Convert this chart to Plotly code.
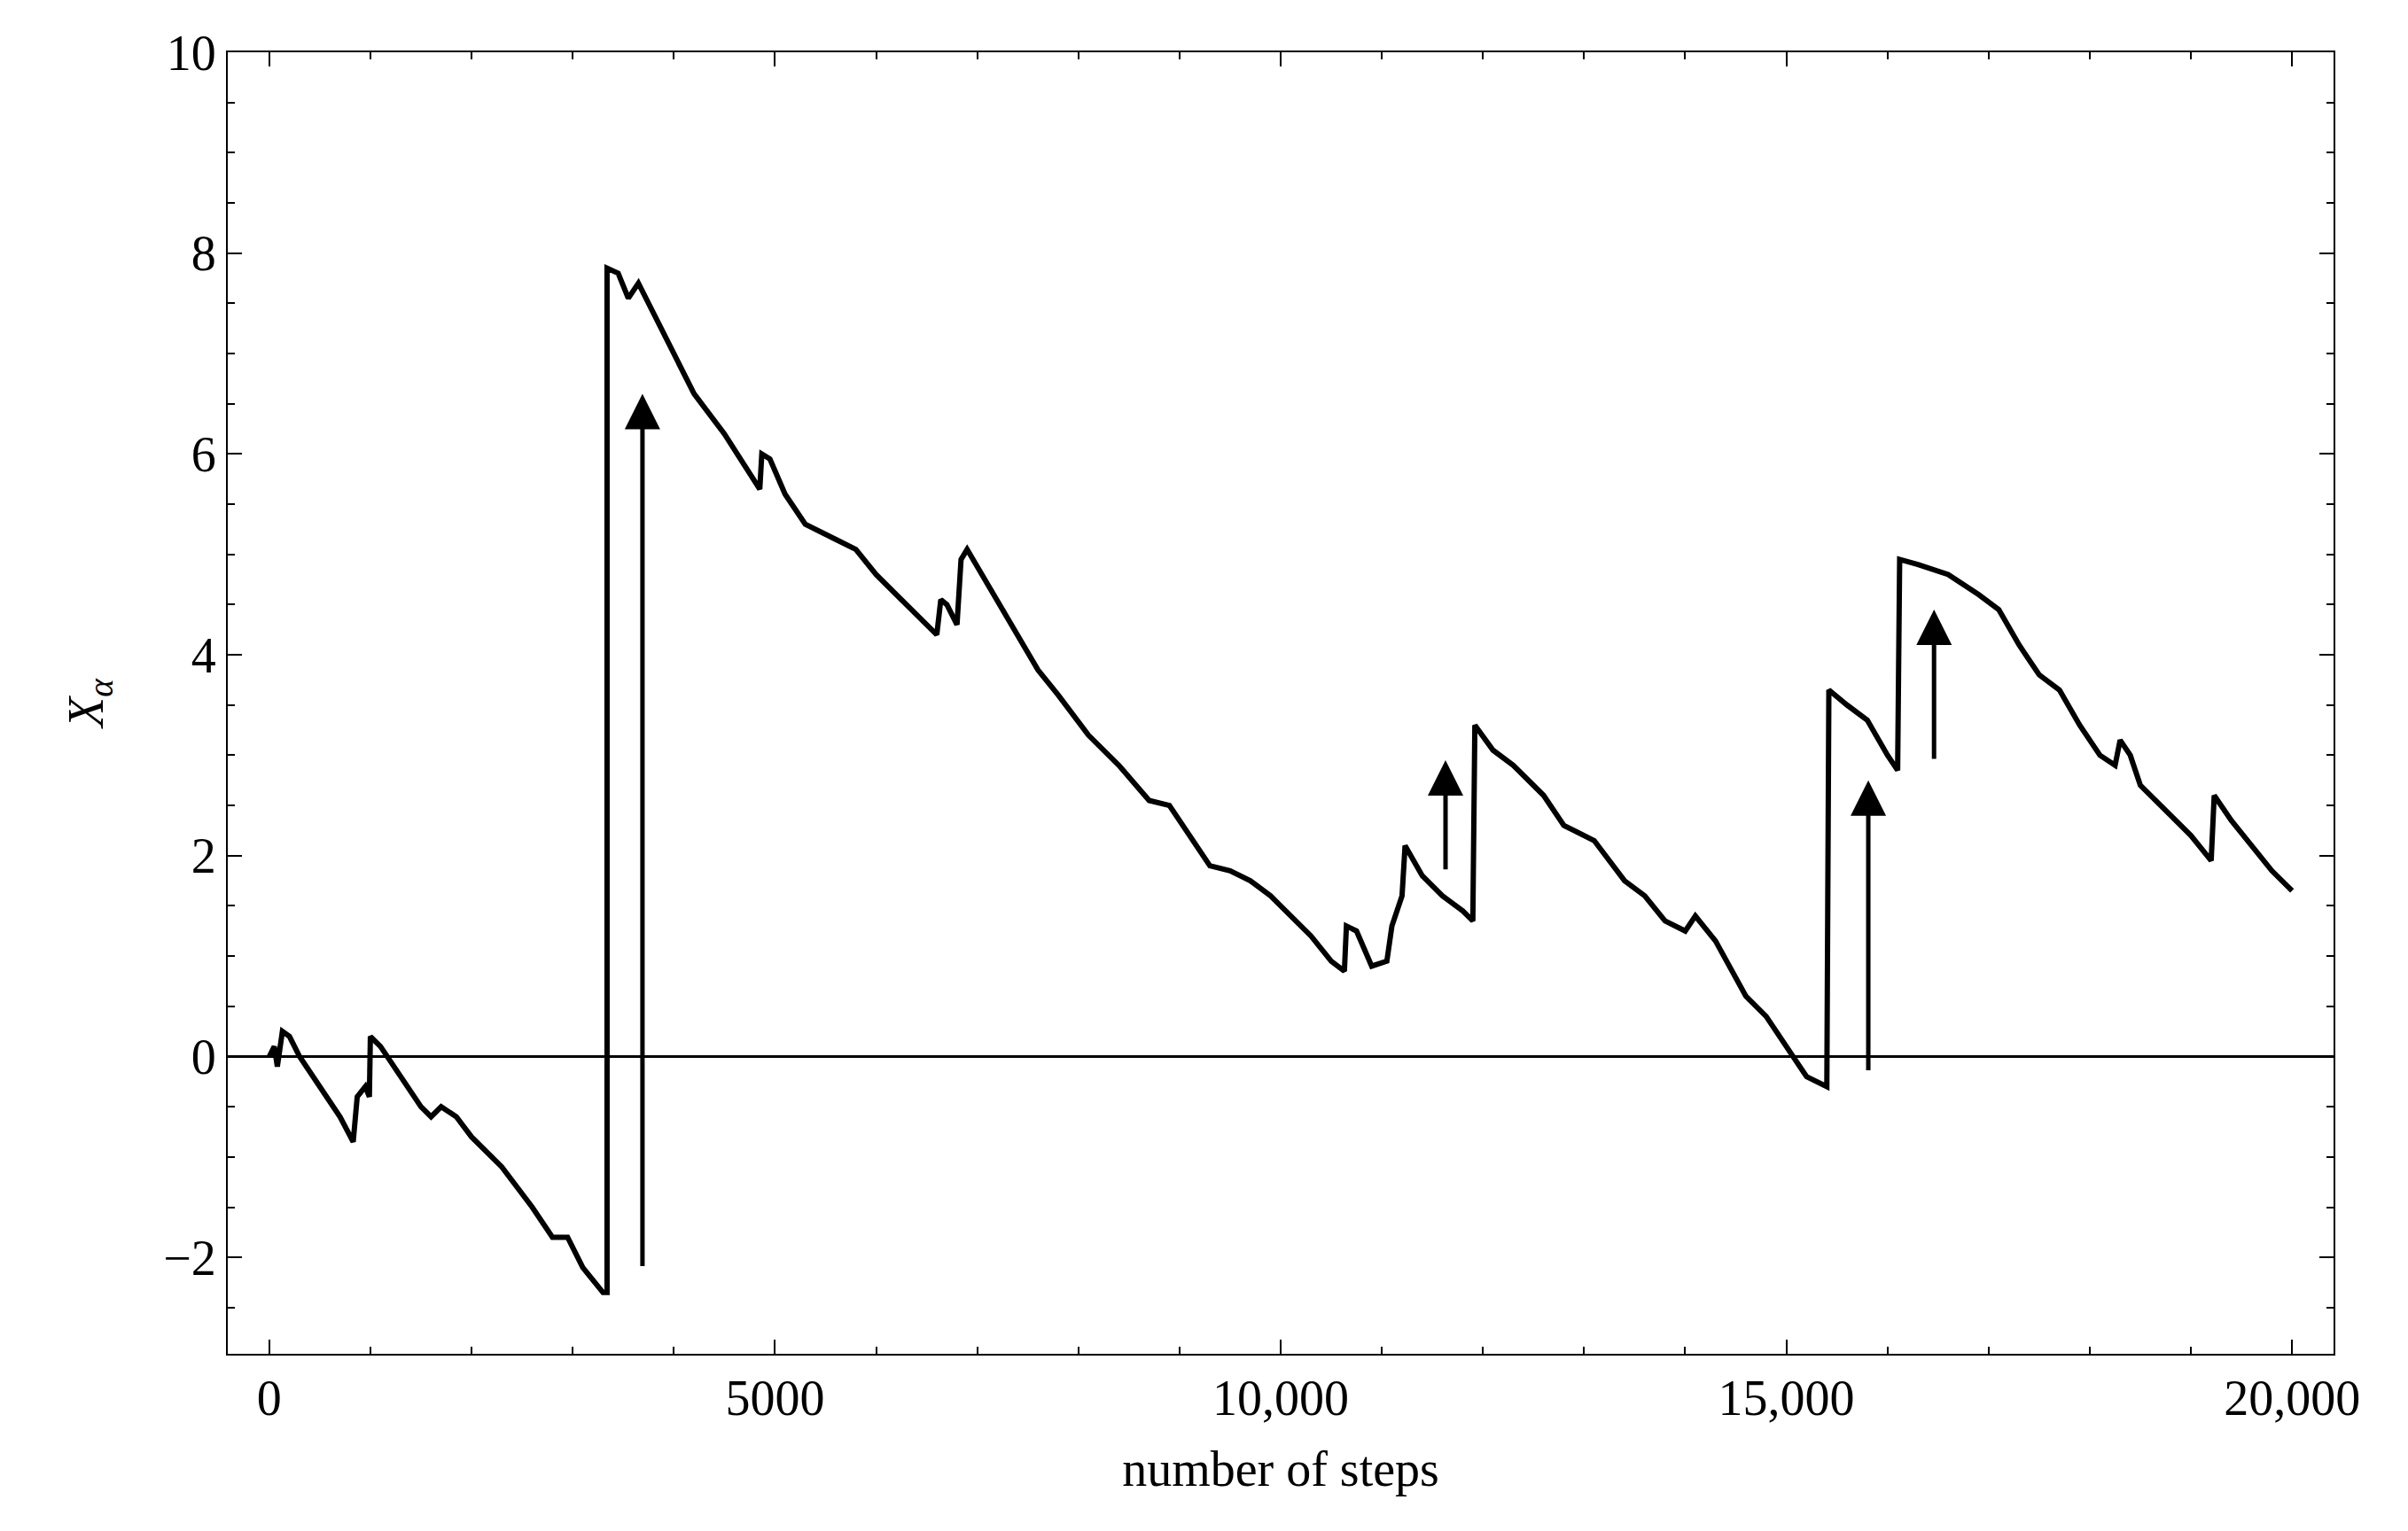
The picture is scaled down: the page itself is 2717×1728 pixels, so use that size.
import plotly.graph_objects as go

# path of X_alpha (step, value)
steps = [0, 50, 80, 130, 200, 300, 500, 700, 830, 870, 950, 990, 1000, 1100, 1300, 1500, 1600, 1700,
         1850, 2000, 2300, 2600, 2800, 2950, 3100, 3300, 3340, 3340, 3450, 3550, 3650, 3800, 4000,
         4200, 4500, 4750, 4850, 4870, 4950, 5100, 5300, 5600, 5800, 6000, 6200, 6400, 6500, 6600,
         6640, 6700, 6800, 6840, 6900, 7100, 7400, 7600, 7800, 8100, 8400, 8700, 8900, 9100, 9300,
         9500, 9700, 9900, 10100, 10300, 10500, 10630, 10650, 10750, 10900, 11050, 11100, 11200,
         11230, 11400, 11600, 11800, 11900, 11920, 12100, 12300, 12600, 12800, 13100, 13400, 13600,
         13800, 14000, 14100, 14300, 14600, 14800, 15000, 15200, 15400, 15420, 15600, 15800, 16000,
         16100, 16120, 16300, 16600, 16900, 17100, 17300, 17500, 17700, 17900, 18100, 18250, 18300,
         18400, 18500, 18800, 19000, 19200, 19230, 19400, 19600, 19800, 20000]
x_alpha = [0.0, 0.1, -0.1, 0.25, 0.2, 0.0, -0.3, -0.6, -0.85, -0.4, -0.3, -0.4, 0.2, 0.1, -0.2, -0.5,
           -0.6, -0.5, -0.6, -0.8, -1.1, -1.5, -1.8, -1.8, -2.1, -2.35, -2.35, 7.85, 7.8, 7.55, 7.7,
           7.4, 7.0, 6.6, 6.2, 5.8, 5.65, 6.0, 5.95, 5.6, 5.3, 5.15, 5.05, 4.8, 4.6, 4.4, 4.3, 4.2,
           4.55, 4.5, 4.3, 4.95, 5.05, 4.7, 4.2, 3.85, 3.6, 3.2, 2.9, 2.55, 2.5, 2.2, 1.9, 1.85, 1.75,
           1.6, 1.4, 1.2, 0.95, 0.85, 1.3, 1.25, 0.9, 0.95, 1.3, 1.6, 2.1, 1.8, 1.6, 1.45, 1.35, 3.3,
           3.05, 2.9, 2.6, 2.3, 2.15, 1.75, 1.6, 1.35, 1.25, 1.4, 1.15, 0.6, 0.4, 0.1, -0.2, -0.3,
           3.65, 3.5, 3.35, 3.0, 2.85, 4.95, 4.9, 4.8, 4.6, 4.45, 4.1, 3.8, 3.65, 3.3, 3.0, 2.9, 3.15,
           3.0, 2.7, 2.4, 2.2, 1.95, 2.6, 2.35, 2.1, 1.85, 1.65]

# arrows: (step, tail, head)
arrow_x = [3690, 11630, 15810, 16460]
arrow_from = [-2.1, 1.85, -0.15, 2.95]
arrow_to = [6.6, 2.95, 2.75, 4.45]

x_ticks = [0, 5000, 10000, 15000, 20000]
x_labels = ["0", "5000", "10,000", "15,000", "20,000"]
y_ticks = [-2, 0, 2, 4, 6, 8, 10]
y_labels = ["\u22122", "0", "2", "4", "6", "8", "10"]

font = dict(family="Liberation Serif", size=56, color="black")

fig = go.Figure()
fig.add_trace(go.Scatter(x=steps, y=x_alpha, mode="lines",
                         line=dict(color="black", width=6), showlegend=False))

for xa, y0, y1 in zip(arrow_x, arrow_from, arrow_to):
    fig.add_annotation(x=xa, y=y1, ax=xa, ay=y0, xref="x", yref="y", axref="x", ayref="y",
                       text="", showarrow=True, arrowhead=2, arrowsize=1.6, arrowwidth=5,
                       arrowcolor="black")

fig.add_hline(y=0, line=dict(color="black", width=3))

axis_common = dict(showgrid=False, zeroline=False, showline=True, linecolor="black", linewidth=2,
                   mirror="ticks", ticks="inside", ticklen=16, tickwidth=2, tickcolor="black",
                   tickfont=font)
fig.update_xaxes(range=[-410, 20410], tickvals=x_ticks, ticktext=x_labels,
                 minor=dict(dtick=1000, tick0=0, ticks="inside", ticklen=8, tickcolor="black", tickwidth=2),
                 title=dict(text="number of steps", font=font, standoff=30), **axis_common)
fig.update_yaxes(range=[-2.96, 10], tickvals=y_ticks, ticktext=y_labels,
                 minor=dict(dtick=0.5, tick0=0, ticks="inside", ticklen=8, tickcolor="black", tickwidth=2),
                 title=dict(text="<i>X<sub>α</sub></i>", font=font, standoff=50), **axis_common)

fig.update_layout(width=2717, height=1728, plot_bgcolor="white", paper_bgcolor="white",
                  margin=dict(l=249, r=92, t=51, b=208), font=font)
fig.write_html("out.html")
